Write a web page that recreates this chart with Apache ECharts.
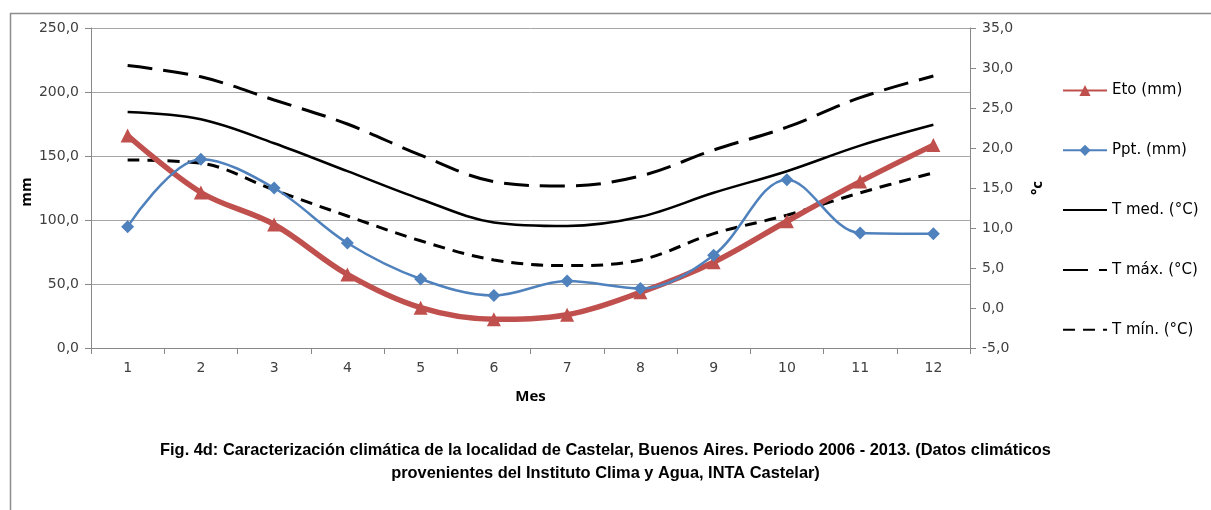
<!DOCTYPE html>
<html>
<head>
<meta charset="utf-8">
<script src="https://cdn.jsdelivr.net/npm/echarts@6/dist/echarts.min.js"></script>
<style>
  html, body { margin: 0; padding: 0; background: #fff; }
  #chart { width: 1211px; height: 510px; }
</style>
</head>
<body>
<div id="chart"></div>
<script>
// Monthly climate data, Castelar 2006-2013
const months = ['1', '2', '3', '4', '5', '6', '7', '8', '9', '10', '11', '12'];
const eto  = [166, 121.5, 96.5, 57.5, 31.5, 22.5, 26, 43.5, 67, 99, 130, 158.5];
const ppt  = [94.8, 147.5, 125, 82, 53.9, 41, 52.3, 46.5, 72.5, 131.5, 89.8, 89.2];
const tMed = [24.5, 23.6, 20.6, 17.1, 13.6, 10.7, 10.25, 11.4, 14.4, 17.1, 20.3, 22.9];
const tMax = [30.3, 28.9, 26.0, 23.0, 19.1, 15.8, 15.25, 16.5, 19.75, 22.6, 26.3, 29.0];
const tMin = [18.5, 18.1, 14.75, 11.5, 8.4, 6.0, 5.3, 6.0, 9.3, 11.6, 14.4, 16.9];
const leftTicks  = { min: 0, max: 250, interval: 50 };
const rightTicks = { min: -5, max: 35, interval: 5 };

const fmt = v => v.toFixed(1).replace('.', ',');
const baseFont = "'DejaVu Sans', 'Noto Sans', sans-serif";
const labelStyle = { color: '#404040', fontSize: 14, fontFamily: baseFont };
const nameStyle = { fontWeight: 'bold', fontSize: 15, color: '#000', fontFamily: "'Open Sans', sans-serif" };
const noMarker = { color: 'rgba(0,0,0,0)' };

const chart = echarts.init(document.getElementById('chart'), null, { renderer: 'canvas' });

chart.setOption({
  animation: false,
  backgroundColor: '#fff',
  grid: { left: 91, right: 241, top: 28, bottom: 162 },
  legend: {
    orient: 'vertical',
    left: 1057, top: 78,
    itemWidth: 44, itemHeight: 14, itemGap: 44.8,
    textStyle: { color: '#000', fontSize: 15, fontFamily: baseFont, padding: [0, 0, 0, 0] },
    data: ['Eto (mm)', 'Ppt. (mm)', 'T med. (°C)', 'T máx. (°C)', 'T mín. (°C)']
  },
  graphic: [
    { type: 'line', shape: { x1: 10, y1: 13.5, x2: 1211, y2: 13.5 }, style: { stroke: '#8c8c8c', lineWidth: 1.5 } },
    { type: 'line', shape: { x1: 10.5, y1: 13, x2: 10.5, y2: 510 }, style: { stroke: '#8c8c8c', lineWidth: 1.5 } },
    // left axis title, set just outside the tick labels
    {
      type: 'text', x: 27, y: 192, rotation: Math.PI / 2,
      style: {
        text: 'mm', align: 'center', verticalAlign: 'middle', fill: '#000',
        font: "bold 15px 'Open Sans', sans-serif"
      }
    },
    {
      type: 'text', left: 'center', top: 439,
      style: {
        text: 'Fig. 4d: Caracterización climática de la localidad de Castelar, Buenos Aires. Periodo 2006 - 2013. (Datos climáticos\nprovenientes del Instituto Clima y Agua, INTA Castelar)',
        textAlign: 'center', fill: '#000',
        font: "bold 16.4px 'Liberation Sans', sans-serif", lineHeight: 23
      }
    }
  ],
  xAxis: {
    type: 'category', data: months, boundaryGap: true,
    name: 'Mes', nameLocation: 'middle', nameGap: 41,
    nameTextStyle: nameStyle,
    axisLine: { lineStyle: { color: '#888', width: 1 } },
    axisTick: { show: true, length: 6, lineStyle: { color: '#888' } },
    axisLabel: { ...labelStyle, margin: 13 }
  },
  yAxis: [
    {
      type: 'value', position: 'left', ...leftTicks,
      axisLine: { show: true, lineStyle: { color: '#888' } },
      axisTick: { show: true, length: 6, lineStyle: { color: '#888' } },
      axisLabel: { ...labelStyle, margin: 12, formatter: fmt },
      splitLine: { show: true, lineStyle: { color: '#a6a6a6', width: 1 } }
    },
    {
      type: 'value', position: 'right', ...rightTicks,
      name: '°c', nameLocation: 'middle', nameGap: 60, nameRotate: 90,
      nameTextStyle: nameStyle,
      axisLine: { show: true, lineStyle: { color: '#888' } },
      axisTick: { show: true, length: 6, lineStyle: { color: '#888' } },
      axisLabel: { ...labelStyle, margin: 12, formatter: fmt },
      splitLine: { show: false }
    }
  ],
  series: [
    {
      name: 'T máx. (°C)', type: 'line', yAxisIndex: 1, data: tMax, smooth: 0.35,
      symbol: 'none', z: 2,
      lineStyle: { color: '#000', width: 3, type: [25, 11] },
      itemStyle: noMarker
    },
    {
      name: 'T med. (°C)', type: 'line', yAxisIndex: 1, data: tMed, smooth: 0.35,
      symbol: 'none', z: 2,
      lineStyle: { color: '#000', width: 2.5 },
      itemStyle: noMarker
    },
    {
      name: 'T mín. (°C)', type: 'line', yAxisIndex: 1, data: tMin, smooth: 0.35,
      symbol: 'none', z: 2,
      lineStyle: { color: '#000', width: 3, type: [12, 8] },
      itemStyle: noMarker
    },
    {
      name: 'Eto (mm)', type: 'line', yAxisIndex: 0, data: eto, smooth: 0.35,
      symbol: 'triangle', symbolSize: 14, showAllSymbol: true, z: 3,
      lineStyle: { color: '#c0504d', width: 5.5 },
      itemStyle: { color: '#c0504d' }
    },
    {
      name: 'Ppt. (mm)', type: 'line', yAxisIndex: 0, data: ppt, smooth: 0.35,
      symbol: 'diamond', symbolSize: 13, showAllSymbol: true, z: 4,
      lineStyle: { color: '#4f81bd', width: 2.5 },
      itemStyle: { color: '#4f81bd' }
    }
  ]
});
</script>
</body>
</html>
